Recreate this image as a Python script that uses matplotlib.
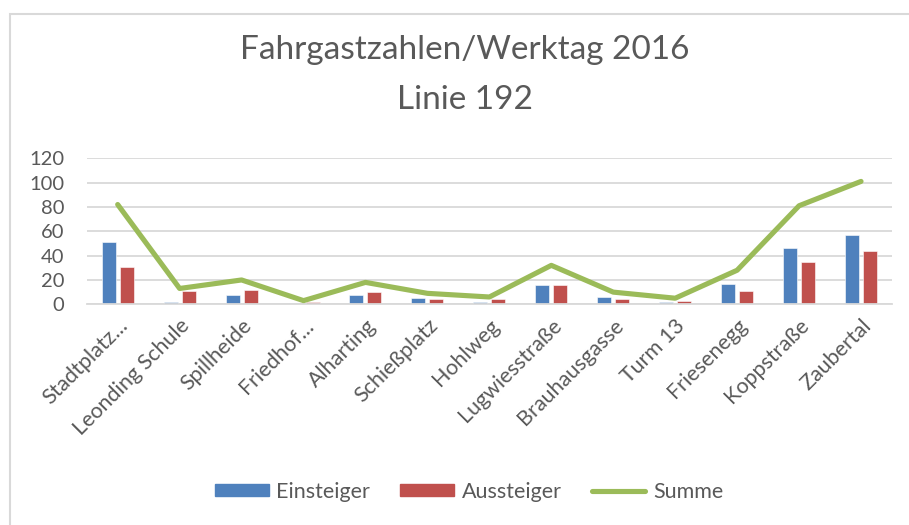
import matplotlib.pyplot as plt
import numpy as np
from matplotlib.patches import Rectangle
from matplotlib.lines import Line2D

plt.rcParams['font.family'] = ['Lato', 'DejaVu Sans']

haltestellen = ["Stadtplatz...", "Leonding Schule", "Spillheide", "Friedhof...",
                "Alharting", "Schießplatz", "Hohlweg", "Lugwiesstraße",
                "Brauhausgasse", "Turm 13", "Friesenegg", "Koppstraße", "Zaubertal"]
einsteiger = [51, 2, 8, 1, 8, 5, 2, 16, 6, 2, 17, 46, 57]
aussteiger = [31, 11, 12, 2, 10, 4, 4, 16, 4, 3, 11, 35, 44]
summe = [82, 13, 20, 3, 18, 9, 6, 32, 10, 5, 28, 81, 101]

blau = "#4F81BD"
rot = "#C0504D"
gruen = "#9BBB59"
grau = "#595959"

fig = plt.figure(figsize=(9.09, 5.25), dpi=100)
ax = fig.add_axes([0.0954, 0.4204, 0.8859, 0.2781])

x = np.arange(len(haltestellen))
w = 0.226
ax.bar(x - 0.145, einsteiger, w, color=blau, edgecolor="white", linewidth=0.4, zorder=2)
ax.bar(x + 0.145, aussteiger, w, color=rot, edgecolor="white", linewidth=0.4, zorder=2)
ax.plot(x, summe, color=gruen, linewidth=3.7, solid_capstyle="round", zorder=3)

ax.set_xlim(-0.5, len(haltestellen) - 0.5)
ax.set_ylim(0, 120)
ax.set_yticks(range(0, 121, 20))
ax.yaxis.grid(True, color="#D9D9D9", linewidth=1.3)
ax.set_axisbelow(True)
for s in ["top", "right", "left"]:
    ax.spines[s].set_visible(False)
ax.spines["bottom"].set_color("#D9D9D9")
ax.spines["bottom"].set_linewidth(1.3)
ax.tick_params(axis="both", length=0, colors=grau)
ax.tick_params(axis="y", pad=16, labelsize=14.5)
ax.set_xticks(x)
ax.set_xticklabels(haltestellen, rotation=45, ha="right", rotation_mode="anchor")
ax.tick_params(axis="x", pad=8, labelsize=15.5)

fig.text(0.5116, 1 - 59.3 / 525, "Fahrgastzahlen/Werktag 2016", ha="center",
         va="baseline", fontsize=24, color=grau)
fig.text(0.5116, 1 - 109.3 / 525, "Linie 192", ha="center",
         va="baseline", fontsize=24, color=grau)

# Rahmen des Diagrammbereichs
fig.patches.append(Rectangle((10 / 909, -0.1), 1.2, 1 - 14 / 525 + 0.1,
                             transform=fig.transFigure, fill=False,
                             edgecolor="#D9D9D9", linewidth=1.5))

handles = [Rectangle((0, 0), 1, 1, color=blau),
           Rectangle((0, 0), 1, 1, color=rot),
           Line2D([], [], color=gruen, linewidth=3.7, solid_capstyle="round")]
fig.legend(handles, ["Einsteiger", "Aussteiger", "Summe"], loc="center",
           bbox_to_anchor=(469 / 909, 1 - 492 / 525), ncol=3, frameon=False,
           fontsize=15.5, labelcolor=grau, handlelength=2.5, handleheight=0.5,
           columnspacing=1.4, handletextpad=0.35)

fig.savefig("out.png", dpi=100)
